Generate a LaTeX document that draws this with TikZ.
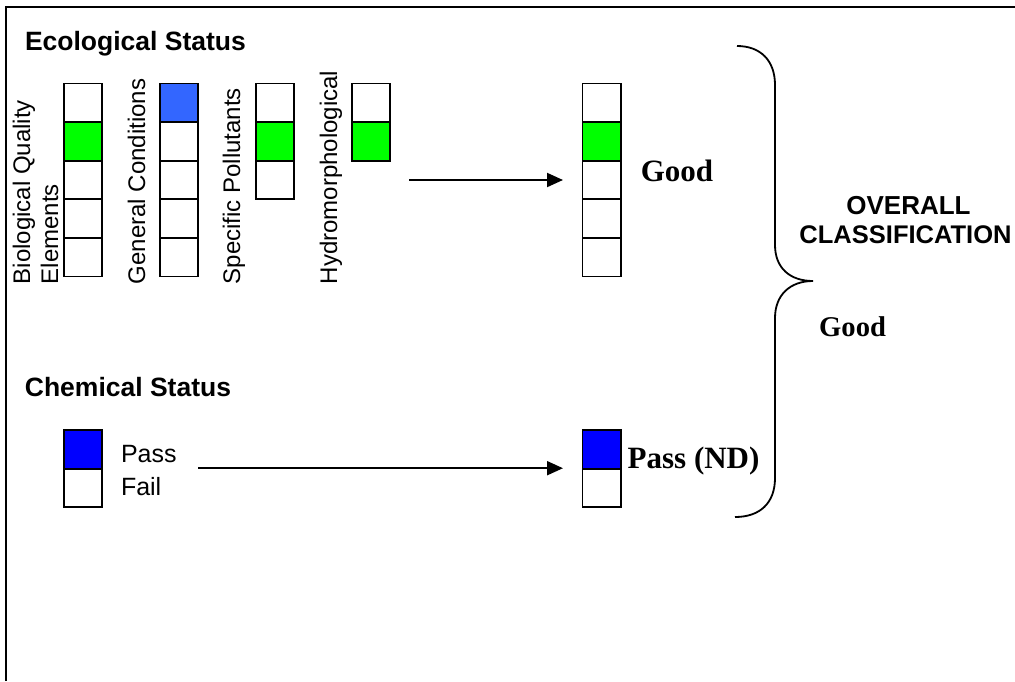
\documentclass[tikz,border=0pt]{standalone}
\usepackage{fontspec}
\setmainfont{Liberation Sans}
\newfontfamily\tnr{Liberation Serif}
\usetikzlibrary{arrows.meta}
\definecolor{gr}{HTML}{00FF00}
\definecolor{lb}{HTML}{3366FF}
\definecolor{db}{HTML}{0000FF}
\begin{document}
\begin{tikzpicture}[x=1pt,y=-1pt,
  cell/.style={draw, line width=1.9pt, minimum width=38.3pt, minimum height=38.6pt, inner sep=0pt, outer sep=0pt, anchor=north west},
  rot/.style={rotate=90, anchor=base west, inner sep=0pt, font=\fontsize{24}{28}\selectfont},
  title/.style={anchor=base west, inner sep=0pt, font=\fontsize{26.5}{30}\selectfont\bfseries},
  plain/.style={anchor=base west, inner sep=0pt, font=\fontsize{25}{30}\selectfont},
  result/.style={anchor=base west, inner sep=0pt, font=\fontsize{31}{36}\selectfont\tnr\bfseries},
  overall/.style={anchor=base, inner sep=0pt, font=\fontsize{26}{29}\selectfont\bfseries},
  arr/.style={line width=2pt, -{Triangle[length=16pt,width=14pt]}},
  frame/.style={line width=2.2pt},
  bracestyle/.style={line width=1.8pt}]
\useasboundingbox (0,0) rectangle (1015,681);
% frame
\draw[frame] (6,681) -- (6,7) -- (1015,7);
% titles
\node[title] (eco) at (24.8,50) {Ecological Status};
\node[title] (chem) at (24.7,396) {Chemical Status};
% rotated labels
\node[rot] (lbio1) at (30,284.5) {Biological Quality};
\node[rot] (lbio2) at (58,284.5) {Elements};
\node[rot] (lgen) at (145,284.5) {General Conditions};
\node[rot] (lspec) at (240,284.5) {Specific Pollutants};
\node[rot] (lhyd) at (337,284.5) {Hydromorphological};
% biological column
\node[cell] (b1) at (64,83.5) {};
\node[cell, fill=gr] (b2) at (64,122.1) {};
\node[cell] (b3) at (64,160.7) {};
\node[cell] (b4) at (64,199.3) {};
\node[cell] (b5) at (64,237.9) {};
% general conditions column
\node[cell, fill=lb] (g1) at (160,83.5) {};
\node[cell] (g2) at (160,122.1) {};
\node[cell] (g3) at (160,160.7) {};
\node[cell] (g4) at (160,199.3) {};
\node[cell] (g5) at (160,237.9) {};
% specific pollutants column
\node[cell] (s1) at (256,83.5) {};
\node[cell, fill=gr] (s2) at (256,122.1) {};
\node[cell] (s3) at (256,160.7) {};
% hydromorphological column
\node[cell] (h1) at (352,83.5) {};
\node[cell, fill=gr] (h2) at (352,122.1) {};
% result ecological column
\node[cell] (r1) at (582.5,83.5) {};
\node[cell, fill=gr] (r2) at (582.5,122.1) {};
\node[cell] (r3) at (582.5,160.7) {};
\node[cell] (r4) at (582.5,199.3) {};
\node[cell] (r5) at (582.5,237.9) {};
\node[result] (good1) at (640.6,181.7) {Good};
% ecological arrow
\coordinate (ecostart) at (409,180);
\draw[arr, shorten >=19.5pt] (ecostart) -- (r3.west);
% chemical
\node[cell, fill=db] (c1) at (64,430) {};
\node[cell] (c2) at (64,468.6) {};
\node[plain] (pass) at (120.8,462.7) {Pass};
\node[plain] (fail) at (120.8,495) {Fail};
\node[cell, fill=db] (rc1) at (582.5,430) {};
\node[cell] (rc2) at (582.5,468.6) {};
\node[result] (passnd) at (627.5,468) {Pass (ND)};
\coordinate (chemstart) at (198,468.2);
\coordinate (chemend) at (563,468.2);
\draw[arr] (chemstart) -- (chemend);
% brace
\draw[bracestyle] (737,46) .. controls (760,46) and (775,60) .. (775,85) -- (775,245)
  .. controls (775,268) and (790,281) .. (813,281)
  .. controls (790,281) and (775,295) .. (775,318) -- (775,478)
  .. controls (775,503) and (760,517) .. (735,517);
% overall
\node[overall] (ov1) at (908.5,214.3) {OVERALL};
\node[overall, font=\fontsize{25.5}{29}\selectfont\bfseries] (ov2) at (905.5,243.3) {CLASSIFICATION};
\node[result, font=\fontsize{28.6}{33}\selectfont\tnr\bfseries] (good2) at (819,336.7) {Good};
\end{tikzpicture}
\end{document}
